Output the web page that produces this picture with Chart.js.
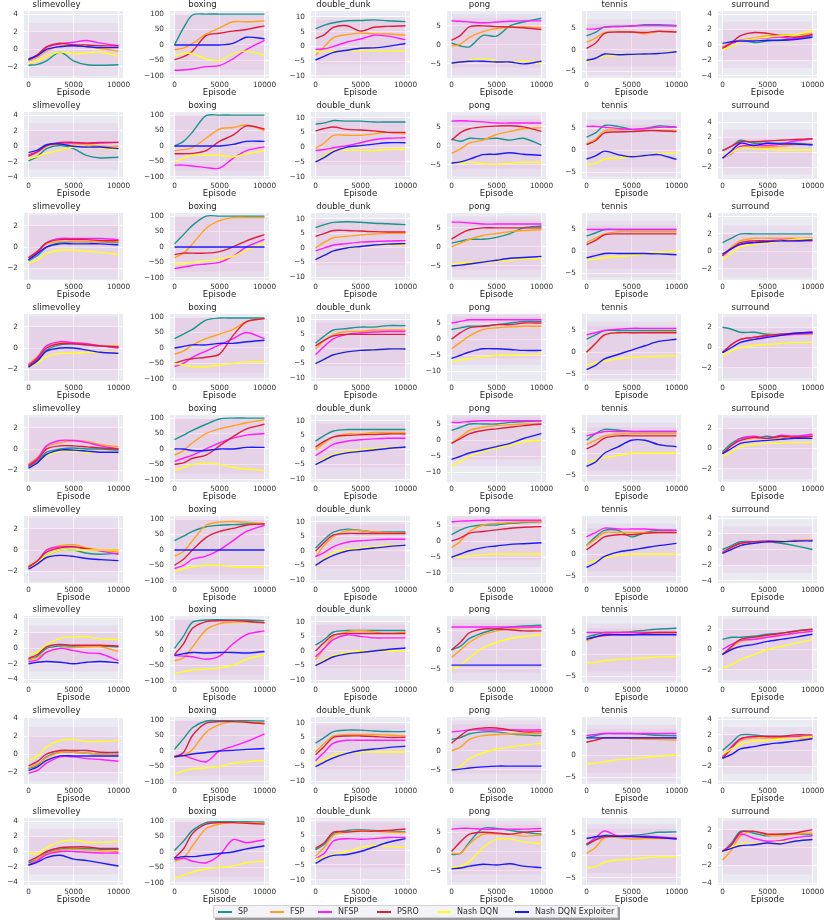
<!DOCTYPE html>
<html><head><meta charset="utf-8">
<script src="https://cdn.jsdelivr.net/npm/chart.js@4.4.1/dist/chart.umd.min.js"></script>
<style>
html,body{margin:0;padding:0;background:#fff;width:831px;height:920px;overflow:hidden;font-family:"DejaVu Sans",sans-serif;}
#wrap{position:absolute;left:0;top:0;width:831px;height:920px;}
canvas{position:absolute;}
#legend{position:absolute;left:213px;top:905px;width:403px;height:11px;border:1px solid #cfcfd6;background:#f2f2f7;box-shadow:2px 2px 0 #9a9a9a;}
.li{position:absolute;top:0;height:11px;font-size:8px;line-height:11px;color:#333;white-space:nowrap;}
.li span.ln{position:absolute;left:0;top:5px;width:14px;height:1.5px;}
.li span.tx{position:absolute;left:20px;top:0;}
</style></head><body>
<div id="wrap"></div>
<div id="legend"></div>
<script>
const episodes = [0, 1000, 2000, 3500, 5000, 6500, 8000, 10000];
const games = ['slimevolley', 'boxing', 'double_dunk', 'pong', 'tennis', 'surround'];
const seriesNames = ['SP', 'FSP', 'NFSP', 'PSRO', 'Nash DQN', 'Nash DQN Exploiter'];
const seriesColors = ['#17968c', '#ffa21a', '#ff1aff', '#dc1f3f', '#ffff1a', '#1a1aff'];
const yTickStep = [2, 50, 5, 5, 5, 2];

// ---- slimevolley (9 runs each) ----
const slimevolleySP = [[-1.8,-1.7,-1.3,-0.3,-1.3,-1.75,-1.8,-1.75],[-1.9,-1.3,-0.3,0.1,-0.3,-1.2,-1.5,-1.4],[-1.3,-0.8,0,0.4,0.5,0.5,0.5,0.4],[-1.8,-1.2,-0.2,0.3,0.4,0.3,0.2,0.1],[-1.7,-1.2,-0.3,0,0.1,0,0,-0.1],[-1.6,-1.2,-0.5,0,0,-0.3,-0.4,-0.3],[-1.5,-1,0,0.3,0.3,0.3,0.3,0.2],[-1.6,-1.2,-0.3,0.2,0.2,0.1,0,0],[-1.5,-1,-0.2,0.3,0.4,0.4,0.3,0.3]];
const slimevolleyFSP = [[-1.3,-0.9,-0.2,0.4,0.5,0.3,0.1,-0.2],[-1.2,-0.8,0,0.3,0.3,0.2,0,0],[-1,-0.5,0.3,0.5,0.5,0.5,0.5,0.5],[-1.5,-0.8,0.2,0.5,0.5,0.4,0.2,0.2],[-1.4,-0.8,0.2,0.6,0.8,0.7,0.4,0.2],[-1.5,-1,0,0.4,0.5,0.2,0,-0.2],[-1.4,-1.2,-0.5,0,0.1,0.2,0.2,-0.4],[-1.5,-1.1,-0.4,0.2,0.2,0.1,0,-0.1],[-1.8,-1,-0.3,0.2,0.3,0.2,0.1,0]];
const slimevolleyNFSP = [[-1.2,-0.7,0.2,0.6,0.8,1.0,0.7,0.4],[-1.1,-0.7,0.1,0.4,0.4,0.4,0.4,0.5],[-1.2,-0.5,0.4,0.8,0.8,0.8,0.8,0.7],[-1.6,-0.9,0.2,0.6,0.5,0.4,0.2,0],[-1.5,-0.9,0.3,0.8,0.8,0.6,0.3,0],[-1.7,-1.1,0,0.3,0.3,0.1,-0.1,-0.4],[-1.7,-1.5,-0.5,0,-0.3,-0.6,-0.7,-1.6],[-2.1,-1.8,-1,-0.3,-0.3,-0.5,-0.6,-0.8],[-1.8,-1.2,-0.4,0,0,-0.1,-0.2,-0.2]];
const slimevolleyPSRO = [[-1.2,-0.6,0.3,0.7,0.5,0.5,0.4,0.4],[-1.3,-0.7,0.1,0.5,0.5,0.4,0.5,0.5],[-1,-0.4,0.4,0.7,0.7,0.7,0.6,0.6],[-1.7,-1,0,0.4,0.4,0.3,0.2,0.1],[-1.6,-1,0,0.3,0.3,0.2,0.1,0],[-1.6,-1,-0.2,0.2,0.3,0.1,0,0],[-1.3,-0.8,0.2,0.5,0.4,0.4,0.4,0.3],[-1.3,-0.8,0,0.4,0.4,0.4,0.2,0.2],[-1.3,-0.7,0,0.5,0.6,0.6,0.4,0.4]];
const slimevolleyNashDQN = [[-1.6,-1.3,-0.8,-0.3,-0.5,-0.4,-0.3,-0.8],[-1.6,-1.3,-0.9,-0.5,-0.1,-0.1,-0.2,-0.5],[-1.5,-1.2,-0.6,-0.3,-0.3,-0.4,-0.5,-0.7],[-1.8,-1.4,-0.8,-0.5,-0.5,-0.4,-0.4,-0.4],[-1.8,-1.3,-0.6,-0.2,-0.2,-0.3,-0.3,-0.3],[-1.8,-1.2,-0.5,0,0,0,0,0],[-0.8,-0.5,0.5,1.3,1.5,1.5,1.2,1.2],[-0.7,-0.2,0.8,1.5,1.6,1.4,1.4,1.5],[-0.2,-0.3,0.5,1.3,1.5,1.2,1.2,1.3]];
const slimevolleyExploiter = [[-1.1,-0.7,0,0.3,0.4,0.3,0.2,0.2],[-0.8,-0.5,0.2,0.3,0,-0.1,-0.1,-0.3],[-1.2,-0.6,0,0.3,0.3,0.3,0.3,0.2],[-1.8,-1.2,-0.3,0,0,-0.2,-0.4,-0.5],[-1.8,-1.3,-0.5,-0.1,-0.1,-0.2,-0.3,-0.3],[-1.8,-1.3,-0.7,-0.5,-0.6,-0.8,-0.9,-1],[-2,-1.8,-1.7,-1.8,-2,-1.8,-1.7,-1.9],[-1.8,-1.4,-0.7,-0.2,-0.2,-0.2,-0.2,-0.2],[-1.8,-1.4,-0.8,-0.5,-1.0,-1.2,-1.5,-1.9]];

// ---- boxing ----
const boxingSP = [[0,55,97,100,100,100,100,100],[0,15,45,98,100,100,100,100],[10,40,70,100,100,100,100,100],[30,45,60,90,97,97,97,97],[30,45,60,80,97,100,100,100],[30,45,60,75,80,82,84,85],[5,45,90,97,98,97,97,95],[5,40,75,97,98,98,98,97],[5,35,70,95,98,98,98,97]];
const boxingFSP = [[-15,-10,5,35,55,75,75,78],[-15,-12,-5,25,55,60,68,50],[-35,-20,10,60,85,95,95,95],[-20,-10,10,30,45,60,85,95],[-20,-5,20,50,65,75,85,95],[-20,-5,30,80,90,92,90,85],[-35,-25,10,65,85,90,90,88],[-20,-15,5,60,85,95,93,90],[-30,-20,20,75,90,95,95,93]];
const boxingNFSP = [[-82,-81,-78,-70,-67,-45,-15,15],[-62,-62,-65,-70,-72,-40,-15,-3],[-70,-65,-60,-55,-50,-30,0,25],[-60,-50,-30,-10,10,30,50,30],[-40,-30,-20,0,20,35,45,50],[-60,-50,-30,-20,0,30,60,80],[-18,-20,-22,-30,-20,20,50,62],[-18,-15,-25,-35,0,15,30,55],[-25,-20,-30,-35,-10,40,30,40]];
const boxingPSRO = [[-48,-38,-20,30,38,45,50,62],[-25,-25,-24,-15,15,35,65,55],[-25,-20,-20,-20,-15,0,20,40],[-50,-40,-35,-30,-20,40,85,95],[-50,-45,-30,-20,10,40,65,80],[-50,-30,0,40,60,70,80,85],[-15,20,70,92,95,95,93,88],[-20,-5,50,90,95,95,93,88],[-20,10,60,90,95,95,93,90]];
const boxingNashDQN = [[-35,-27,-28,-45,-50,-28,-20,-33],[-50,-40,-30,-30,-30,-35,-25,-15],[-55,-55,-50,-45,-40,-30,-10,15],[-50,-55,-60,-60,-55,-50,-45,-45],[-70,-60,-50,-45,-50,-60,-65,-70],[-70,-60,-55,-50,-50,-55,-55,-55],[-75,-70,-65,-62,-58,-50,-30,-15],[-75,-65,-58,-55,-50,-40,-35,-30],[-85,-75,-65,-55,-50,-45,-35,-30]];
const boxingExploiter = [[0,0,0,0,0,5,25,20],[0,0,0,0,0,5,15,15],[0,0,0,0,0,0,0,0],[0,5,10,10,15,15,20,25],[0,0,-5,-5,0,0,5,5],[0,0,0,0,0,0,0,0],[-18,-12,-8,-10,-8,-8,-10,-5],[-18,-15,-10,-5,0,2,5,8],[-20,-15,-15,-10,-5,0,10,20]];

// ---- double_dunk ----
const doubleDunkSP = [[6,7.2,8,8.7,8.8,9,8.7,8.4],[7.8,8.2,9,8.8,8.8,8.5,8.5,8.5],[7,8,8.8,9,8.8,8.5,8.3,8],[2,4.5,6.5,7,7.5,7.5,8,8],[3,5,6.5,7,7,7,7,7],[1,4,6.5,7.5,7,6.5,6.5,6.5],[2,4,6.5,7,7,7,7,7],[3,5,7,7.5,7.5,7.2,7,7],[0,2,5.5,6.5,6.8,6.5,6.3,6]];
const doubleDunkFSP = [[-3,0,3,4,4.5,4.3,4.2,3.8],[-0.5,1.5,4,4,4,4.5,5,4.5],[0,2,3.5,4,4.5,4.8,5,5],[0,3,5,6,6,6.5,6.5,6.5],[0,2.5,4.5,5.5,5.5,6,6,6],[-2,2,5,7,7,6.5,6.3,6],[-3,1,5,6.5,7,6.5,6,6.5],[0,3,5.5,6,6,6,5.8,5.5],[-2,1,5,6,6.5,6.3,6,5.8]];
const doubleDunkNFSP = [[-1,-0.8,0,1.5,2.5,3.8,3.5,2.3],[-1.2,-0.8,-0.2,0.5,1.5,2.5,3,3.2],[-1,0,1,1.5,2,2.2,2.4,2.5],[-2,1,3.5,5,5.5,5.8,6,6],[-2,0,2,3,3.5,3.8,4,4],[-2,-0.5,1.5,3,3.5,3.8,4,4],[-2,1,4,5.5,5,4.5,4.5,4.5],[-3,0,3,4,4,4,4,4],[-3,-1,3,3.8,3.6,3.8,4.2,4.2]];
const doubleDunkPSRO = [[2.7,4,6.5,7,5.2,6.5,6.8,7],[5.5,6.3,6.8,6,5.8,5.5,5,5],[4,5,6,6,5.8,5.6,5.5,5.5],[1,3,4.5,5,5,5,5,5],[1,3,4.5,5,5.2,5.3,5.5,5.5],[0,3,5.5,6,6,6,6,6],[0,3,5.5,6,6,6,6,6],[-1,2,5,5.5,5.5,5.3,5,5],[0.5,2.5,6,6,6.3,6.3,6.5,7]];
const doubleDunkNashDQN = [[-1.8,-1.6,-1.5,-1.4,-1.3,-1.4,-1.5,-1.5],[-5,-3,-1,-1,-1,-1.2,-0.8,-0.8],[-4,-2.5,-1,0,0.5,0.8,1,1],[-5,-3.5,-2,-1,-0.5,-0.3,0,0],[-5,-3,-1.5,-0.5,0,0.5,0.8,1],[-5,-2.5,-0.5,0.5,1,1.5,1.8,2],[-5,-3,-1.5,-0.5,0,0,0,0],[-4,-2.5,-1,-0.5,0,0,0,0],[-3,-2.5,-1.5,-0.5,0.8,1.5,1.2,1]];
const doubleDunkExploiter = [[-4.6,-3.3,-2,-1.3,-0.6,-0.5,0,1],[-5,-3.5,-1.5,0,0.5,1,1.5,1.5],[-4,-2.5,-1,0,0.5,1,1.3,1.5],[-5,-3.5,-2,-1,-0.5,-0.3,0,0],[-5,-3.5,-2,-1,-0.5,0,0.5,1],[-5,-3,-1.5,0,0.5,1,1.5,2],[-5,-3.5,-2,-1,-0.5,0,0.5,1],[-5,-3.5,-2,-0.5,0.5,1,1.5,2],[-4.5,-2.8,-1.8,-1.5,-0.5,1,2.5,3.8]];

// ---- pong ----
const pongSP = [[0.5,-0.3,-0.5,2.5,2.3,5,6,7],[1.8,1.2,2,1.8,2,1.5,2,0.2],[1,1.5,2,2,2.5,3.5,5,5.5],[3,3.5,4,4,4.5,5,5.5,5.5],[3,4,5,5,5,5.5,5.8,6],[2,3.5,4.5,5,5,5.5,5.8,6],[0,1,3,4.5,5.5,6,6.3,6.5],[3,3.5,4.5,5,5,4.5,4.2,4],[-0.8,-0.5,2.5,6,6,5.5,5,4.5]];
const pongFSP = [[-0.3,0.2,2,3.5,4.3,4.6,4.8,4.5],[-2,-0.8,0.8,1.5,3,3.8,4.5,4.8],[0,1,2,3,3.5,4,4.3,4.5],[-3,-1,1,3,3.5,3.8,4,4],[-1,1,3,4,4.5,4.8,5,5],[-2,0,3,5,5.5,5.8,6,6],[-2,0,2,4,5,5.5,5.8,6],[0,1,3,4,4.3,4.5,4.5,4.5],[-0.5,-0.5,2,4.5,4.5,4.5,4,4.2]];
const pongNFSP = [[6.3,6.2,6,5.8,6,6.2,6.3,6.3],[6.5,6.6,6.5,6.3,6,6,6,6],[6.5,6.5,6.3,6,6,6,6,6],[5,5.5,6,6,6,6,6,6],[5.5,5.5,5.8,6,6,6,6,6],[6,6.2,6.3,6.5,6.5,6.5,6.5,6.5],[6,6,6,6,6,6,6,6],[5,5.2,5.5,5.5,5.5,5.5,5.5,5.5],[5.8,6,6,5.8,5.8,5.8,5.8,6]];
const pongPSRO = [[1.2,2.5,4.8,5,4.8,4.7,4.5,4],[1.5,3.5,4.5,5,5.2,5.3,5,3.8],[2,3.5,4.5,5,5,5,5,5],[0,2,3.5,4,4.5,4.5,5,5],[-1,0.5,2,3,3.5,4,4.5,5],[0,1,2.5,3,3.5,4,4.3,4.5],[0,2,4.5,5.5,5.5,5.3,5,5],[2,4,5.5,6,6,5.5,5,5],[0,2.5,4.5,5,4.8,4.5,5,5.3]];
const pongNashDQN = [[-5,-4.5,-4,-3.6,-4.2,-4.5,-4.3,-4.8],[-4.5,-4.5,-4.2,-4.7,-4.8,-4.6,-4.3,-4.3],[-4.5,-4.3,-4,-4,-3.8,-3.5,-3.2,-3],[-7,-6.5,-6,-5.5,-5,-5,-4.8,-4.5],[-8,-6.5,-5,-3.5,-2.5,-1.5,-0.5,0],[-5,-4.8,-4.5,-4.2,-4,-4,-4,-4],[-5,-4,-2,0.5,2,3,3.5,4],[-5,-4,-2,-0.5,0.5,1,1.5,2],[-4,-3.8,-2.5,1,3.2,3.2,2.5,2]];
const pongExploiter = [[-4.8,-4.5,-4.3,-4.3,-4.5,-4.5,-5,-4.3],[-4.5,-4.2,-3.5,-2.3,-2.2,-1.8,-2.2,-2.5],[-5,-4.8,-4.5,-4,-3.5,-3,-2.8,-2.5],[-6,-5,-4,-3,-3,-3.2,-3.5,-3.5],[-6,-5,-4,-3,-2,-1,0.5,2],[-5,-4,-3,-2,-1.5,-1,-0.8,-0.5],[-4,-4,-4,-4,-4,-4,-4,-4],[-5,-4.8,-4.5,-4.2,-4,-4,-4,-4],[-4.5,-4.3,-3.8,-3.3,-3.5,-3.2,-3.8,-4.2]];

// ---- tennis ----
const tennisSP = [[3.2,4,5.3,5.4,5.5,5.8,5.8,5.6],[3,4,5.7,5.5,4.8,5,5.6,5.3],[3.5,4.2,5,5,5,5,5,5],[3,4,5,5,5,5,5,5],[3,4.5,5.5,5.3,5,5,5,5],[2,4,5.5,5.5,4,5,5.5,5.5],[4,4.5,5,5,5.2,5.5,5.8,6],[4,4.5,5,5,5,4.8,4.6,4.5],[2.3,3.5,4.5,4.3,4.5,4.8,5.2,5.3]];
const tennisFSP = [[1.7,2.7,4,4.2,4.1,3.7,4.2,4.2],[1.5,2.5,4.5,4.7,4.8,4.6,4.6,4.5],[2,3,4,4.5,4.5,4.5,4.5,4.5],[0,2,4,4.5,4.5,4.6,4.7,4.7],[2,3,4,4.5,4.5,4.5,4.5,4.5],[2,3.5,5,5,5,5,5,5],[3,4,4.8,5,5,5,5,5],[3,3.5,4,4,3.8,3.7,3.6,3.5],[0.5,1.8,4,4,3.7,3.8,3.8,3.8]];
const tennisNFSP = [[4.8,4.8,5.2,5.4,5.5,5.6,5.6,5.5],[5.5,5.5,5.3,5,4.8,5,5.3,5.3],[5,5,5,5,5,5,5,5],[4,4.5,5,5.3,5.5,5.5,5.5,5.5],[4,4.5,5,5,5,5,5,5],[4,5,6,5.8,5.8,5.8,5.6,5.5],[5,5,5,5,5,5,5,5],[4.5,4.8,5,5,5,5,5,5],[2.5,4,5.5,4.3,4.2,4.3,4.2,3.8]];
const tennisPSRO = [[0.3,1.5,3.8,4.1,4.1,4,4.3,4.1],[1.3,2.2,4,4.2,4.3,4.5,4.5,4.3],[1.5,2.5,3.8,4,4,4,4,4],[0,2,4,4.5,4.5,4.5,4.5,4.5],[1,2,3.5,4,4,4,4,4],[1,2.5,4,4.5,4.5,4.8,5,5],[3.5,4,4.3,4.5,4.5,4.8,5,5],[3,3.5,4,4,4,4,4,4],[2.5,3.5,4.2,4.3,4.3,4.1,4,3.8]];
const tennisNashDQN = [[-2.8,-2,-1.5,-1.4,-1.2,-1,-0.8,-0.4],[-3.3,-3,-2,-1.8,-1.5,-1.2,-0.8,-0.5],[-2,-1.8,-1.5,-1.2,-1,-0.5,-0.2,0],[-3,-2.5,-2,-1.5,-1.2,-1,-0.9,-0.8],[-2,-1.5,-1,-0.5,0,0,0,0],[-2,-1.5,-0.8,-0.3,0,0,0,0],[-2,-1.8,-1.5,-1.2,-1,-0.8,-0.6,-0.5],[-2,-1.8,-1.5,-1,-0.8,-0.5,-0.2,0],[-2.8,-2.5,-1.5,-1,-0.8,-0.5,-0.3,-0.3]];
const tennisExploiter = [[-2.5,-2,-1,-1.2,-1.1,-1,-0.9,-0.5],[-2,-1.3,-0.2,-1,-1.5,-1.2,-1,-2.1],[-1.5,-1,-0.5,-0.5,-0.5,-0.5,-0.6,-0.8],[-4,-3,-1.5,-0.5,0.5,1.5,2.5,3],[-3,-2,0,1.5,3,3,2,1.5],[-3,-2,-0.5,0.5,1,1.5,2,2.5],[3.5,4,4.5,4.5,4.5,4.5,4.5,4.5],[4,4,4,4,4,4,4,4],[3.8,4.2,4.4,4.3,4.3,4.2,4,3.7]];

// ---- surround ----
const surroundSP = [[-0.3,0.2,0.6,0.3,0.5,0.6,0.8,1.2],[0.2,0.8,1.6,1.2,1.2,1.2,1.2,1],[1,1.5,2,2,2,2,2,2],[2,1.8,1.5,1.5,1.3,1.3,1.3,1.3],[-0.3,0.5,1,1,1.2,1,1.2,1.2],[0,0.5,1,1,1,0.8,0.5,0],[1,1.2,1.2,1.3,1.5,1.6,1.8,2],[0,1,2,2,1.8,1.8,1.8,1.8],[-0.5,0.5,1.8,1.6,1.3,1.5,1.5,1.4]];
const surroundFSP = [[-0.2,0.3,0.6,0.9,1.2,1.3,1.3,1.5],[-0.8,0,0.7,0.6,0.7,0.8,1,1.1],[-0.5,0.5,1.2,1.5,1.5,1.5,1.5,1.5],[-0.5,0.3,0.8,1,1.2,1.2,1.3,1.3],[-0.5,0.3,0.8,1,1,1,1.2,1.3],[-0.5,0.3,0.8,1,1,1,1.1,1.2],[-0.5,0.2,0.8,1,1.2,1.4,1.6,1.8],[-1,0.3,1.3,1.6,1.6,1.6,1.6,1.6],[-1.4,-0.3,1.3,1.8,1.4,1.3,1.5,1.6]];
const surroundNFSP = [[-0.4,0.2,0.5,0.8,0.9,1,0.8,1.4],[-0.8,-0.2,0.8,0.9,0.9,1.1,1.5,1.8],[-0.5,0.3,0.8,1,1.2,1.3,1.4,1.5],[-0.5,0.3,0.8,1,1.1,1.2,1.3,1.4],[-0.5,0.3,1,1.2,1,1.3,1.2,1.4],[-0.3,0.3,0.8,1,1,1.1,1.2,1.2],[0,0.5,0.9,1,1.2,1.4,1.6,1.8],[-0.8,0.5,1.5,1.8,1.8,1.8,1.8,1.8],[-0.4,0.3,1.5,1,0.7,0.8,1.1,1.3]];
const surroundPSRO = [[-0.5,0.3,1.2,1.6,1.5,1.2,1,1.3],[0.2,0.8,1.4,1.4,1.5,1.6,1.7,1.8],[-0.5,0.3,1,1.2,1.2,1.2,1.2,1.2],[-0.5,0.3,0.8,1,1.2,1.3,1.4,1.5],[-0.5,0.3,0.8,1.1,1,1.2,1.1,1.2],[-0.5,0.3,0.8,1,1.1,1.1,1.1,1.2],[-0.5,0.3,1,1.2,1.4,1.6,1.8,2],[-1,0.3,1.5,1.8,1.8,1.8,2,2],[-0.5,0.3,1.7,1.8,1.5,1.5,1.6,2]];
const surroundNashDQN = [[-0.6,-0.2,0.5,0.8,1,1.2,1.3,1.9],[-0.8,-0.1,0.6,0.5,0.4,0.3,0.3,0.3],[-1,-0.2,0.5,0.8,1,1.2,1.4,1.5],[-0.8,-0.3,0,0.2,0.3,0.4,0.5,0.5],[-0.8,-0.3,0.2,0.4,0.5,0.5,0.6,0.6],[-0.5,0,0.5,0.8,1,1.1,1.2,1.2],[-1.8,-1.5,-1,-0.5,0,0.3,0.6,1],[-0.5,0.2,0.8,1.2,1.3,1.5,1.6,1.8],[-0.6,0,0.4,0.4,0.5,0.6,0.7,0.9]];
const surroundExploiter = [[0.2,0.4,0.5,0.5,0.6,0.6,0.7,1],[-0.8,0.2,1.2,0.9,1.2,1.1,1.1,1],[-0.3,0.3,0.8,1,1.1,1.2,1.2,1.3],[-0.5,0,0.5,0.8,1,1.2,1.4,1.5],[-0.5,0,0.5,0.7,0.8,0.9,1,1],[-0.5,0,0.5,0.8,1,1,1.1,1.1],[-0.5,0,0.3,0.5,0.8,1,1.2,1.5],[-1,-0.5,0.2,0.5,0.8,1,1.2,1.5],[-0.4,-0.1,0.2,0.3,0.5,0.4,0.7,0.9]];

// y-axis limits per game, one [min,max] per run (row)
const slimevolleyYLim = [[-3.25,4.35],[-4.2,4.4],[-3.1,3.2],[-3.1,3.2],[-3.1,3.2],[-3.1,3.2],[-4.5,4.2],[-3.3,4.1],[-4.4,4.4]];
const boxingYLim = [[-107,110],[-107,110],[-107,110],[-107,110],[-107,110],[-107,110],[-107,110],[-107,110],[-107,110]];
const doubleDunkYLim = [[-10.7,12],[-10.8,11.9],[-11,12],[-11,12],[-11,12],[-11,12],[-11,12],[-11,12],[-11.7,10.7]];
const pongYLim = [[-8.7,8.9],[-8.7,8.9],[-8.7,8.9],[-13,7.8],[-13,7.8],[-13,7.8],[-8.7,8.9],[-8.7,8.9],[-8.7,8.7]];
const tennisYLim = [[-6.6,9],[-6.6,8.8],[-6.6,8.8],[-6.6,8.8],[-6.6,8.8],[-6.6,8.8],[-6.6,8.8],[-6.6,8.8],[-6.6,8.4]];
const surroundYLim = [[-4.3,4.4],[-3.6,5.4],[-3.3,4.4],[-3.3,3.3],[-3.3,3.3],[-4.3,4.3],[-3.3,3.3],[-4.3,4.3],[-4.2,3.3]];

// raw-episode spread (shaded noise) per game
const noiseLow = [-3, -100, -10, -8, -6, -3];
const noiseHigh = [3, 100, 10, 8, 7, 3];
const denseLow = [-2, -80, -6, -6, -4, -2];
const denseHigh = [2, 100, 9, 7, 6, 2];

const curves = {
  slimevolley: [slimevolleySP, slimevolleyFSP, slimevolleyNFSP, slimevolleyPSRO, slimevolleyNashDQN, slimevolleyExploiter],
  boxing: [boxingSP, boxingFSP, boxingNFSP, boxingPSRO, boxingNashDQN, boxingExploiter],
  double_dunk: [doubleDunkSP, doubleDunkFSP, doubleDunkNFSP, doubleDunkPSRO, doubleDunkNashDQN, doubleDunkExploiter],
  pong: [pongSP, pongFSP, pongNFSP, pongPSRO, pongNashDQN, pongExploiter],
  tennis: [tennisSP, tennisFSP, tennisNFSP, tennisPSRO, tennisNashDQN, tennisExploiter],
  surround: [surroundSP, surroundFSP, surroundNFSP, surroundPSRO, surroundNashDQN, surroundExploiter]
};
const yLims = {slimevolley: slimevolleyYLim, boxing: boxingYLim, double_dunk: doubleDunkYLim, pong: pongYLim, tennis: tennisYLim, surround: surroundYLim};

// ---- layout ----
const FONT = '"DejaVu Sans", sans-serif';
const colLefts = [24, 170, 311, 447, 582, 718];
const plotW = 99, plotH = 67, rowTop0 = 11, rowStep = 100.9, nRows = 9;
const yAxisW = 34, titleH = 11, xAxisH = 21, padRight = 34;

const bgPlugin = {
  id: 'plotBg',
  beforeDraw(chart) {
    const a = chart.chartArea, c = chart.ctx;
    c.save(); c.fillStyle = '#EAEAF2';
    c.fillRect(a.left, a.top, a.right - a.left, a.bottom - a.top);
    c.restore();
  }
};
const fmt = v => (v < 0 ? '\u2212' : '') + String(Math.abs(v));
const wrap = document.getElementById('wrap');

for (let r = 0; r < nRows; r++) {
  for (let g = 0; g < games.length; g++) {
    const game = games[g];
    const cv = document.createElement('canvas');
    const W = yAxisW + plotW + padRight, H = titleH + plotH + xAxisH;
    cv.width = W; cv.height = H;
    cv.style.width = W + 'px'; cv.style.height = H + 'px';
    cv.style.left = (colLefts[g] - yAxisW) + 'px';
    cv.style.top = Math.round(rowTop0 + r * rowStep - titleH) + 'px';
    wrap.appendChild(cv);

    const datasets = curves[game].map((ser, s) => ({
      label: seriesNames[s],
      data: episodes.map((e, i) => ({x: e, y: ser[r][i]})),
      borderColor: seriesColors[s], borderWidth: 1.4, pointRadius: 0,
      tension: 0.3, fill: false, order: 10 - s
    }));
    const band = (arr, extra) => Object.assign({
      data: episodes.map(e => ({x: e, y: arr[g]})),
      borderWidth: 0, pointRadius: 0, order: 30, borderColor: 'rgba(0,0,0,0)'
    }, extra);
    datasets.push(band(noiseLow, {fill: false}));
    datasets.push(band(noiseHigh, {fill: '-1', backgroundColor: 'rgba(222,168,212,0.18)'}));
    datasets.push(band(denseLow, {fill: false}));
    datasets.push(band(denseHigh, {fill: '-1', backgroundColor: 'rgba(226,150,196,0.16)'}));

    const [ymin, ymax] = yLims[game][r];
    const step = yTickStep[g];
    new Chart(cv, {
      type: 'line',
      data: {datasets},
      plugins: [bgPlugin],
      options: {
        responsive: false, animation: false, devicePixelRatio: 1,
        layout: {padding: {left: 0, right: padRight, top: 0, bottom: 0}},
        plugins: {
          legend: {display: false}, tooltip: {enabled: false},
          title: {display: true, text: game, color: '#262626',
            font: {family: FONT, size: 8.5, weight: 'normal', lineHeight: '10px'}, padding: {top: 0, bottom: 1}}
        },
        scales: {
          x: {
            type: 'linear', min: -500, max: 10500,
            afterBuildTicks: s => { s.ticks = [0, 5000, 10000].map(v => ({value: v})); },
            afterFit: s => { s.height = xAxisH; },
            grid: {color: '#ffffff', lineWidth: 1, drawTicks: false},
            border: {display: false},
            ticks: {font: {family: FONT, size: 7.3}, color: '#333', padding: 3, maxRotation: 0, autoSkip: false, callback: v => String(v)},
            title: {display: true, text: 'Episode', color: '#262626', font: {family: FONT, size: 8.5, lineHeight: '10px'}, padding: {top: 0, bottom: 1}}
          },
          y: {
            type: 'linear', min: ymin, max: ymax,
            afterBuildTicks: s => {
              const t = [];
              for (let v = Math.ceil(ymin / step) * step; v <= ymax + 1e-9; v += step) t.push({value: v});
              s.ticks = t;
            },
            afterFit: s => { s.width = yAxisW; },
            grid: {color: '#ffffff', lineWidth: 1, drawTicks: false},
            border: {display: false},
            ticks: {font: {family: FONT, size: 7.3}, color: '#333', padding: 6, autoSkip: false, callback: v => fmt(v)}
          }
        }
      }
    });
  }
}

// legend
const legendX = [4, 56, 104, 163, 223, 301];
const lg = document.getElementById('legend');
seriesNames.forEach((n, i) => {
  const d = document.createElement('div');
  d.className = 'li'; d.style.left = legendX[i] + 'px';
  d.innerHTML = '<span class="ln" style="background:' + seriesColors[i] + '"></span><span class="tx">' + n + '</span>';
  lg.appendChild(d);
});
</script>
</body></html>
